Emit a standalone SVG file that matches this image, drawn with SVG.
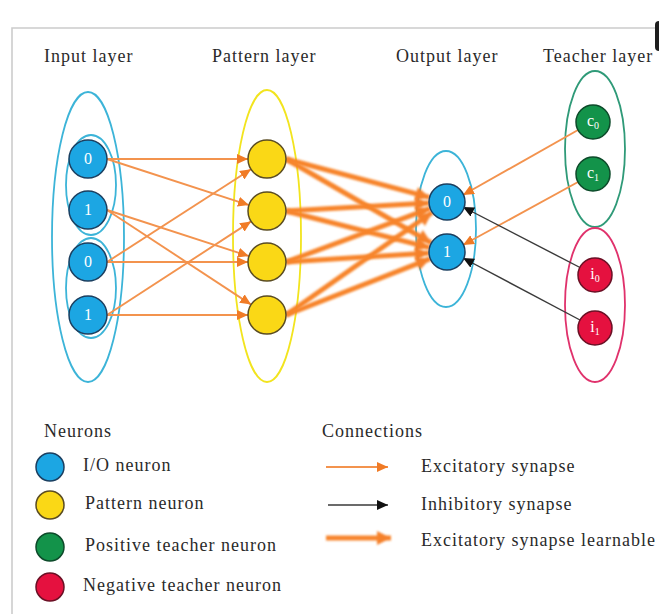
<svg xmlns="http://www.w3.org/2000/svg" width="659" height="614" viewBox="0 0 659 614">
  <defs>
    <style>
      .lbl { font-family: "Liberation Serif", "Times New Roman", serif; font-size: 18px; letter-spacing: 1px; fill: #2a2a2a; }
      .num { font-family: "Liberation Serif", "Times New Roman", serif; font-size: 16px; fill: #ffffff; text-anchor: middle; }
      .io { fill: #1ca6e3; stroke: #1b3f60; stroke-width: 1.5; }
      .pat { fill: #fad816; stroke: #5a4c22; stroke-width: 1.5; }
      .pos { fill: #13934a; stroke: #0d4a2a; stroke-width: 1.5; }
      .neg { fill: #e5113f; stroke: #6a1025; stroke-width: 1.5; }
      .exc { stroke: #f3934e; stroke-width: 1.9; fill: none; marker-end: url(#arrExc); }
      .inh { stroke: #3a3a3a; stroke-width: 1.4; fill: none; marker-end: url(#arrInh); }
      .learn { stroke: #f7842a; stroke-width: 5; fill: none; filter: url(#soft); marker-end: url(#arrLearn); }
      .grp { fill: none; stroke-width: 1.8; }
    </style>
    <filter id="soft" filterUnits="userSpaceOnUse" x="0" y="0" width="659" height="614">
      <feGaussianBlur stdDeviation="1.3"/>
    </filter>
    <marker id="arrExc" markerUnits="userSpaceOnUse" markerWidth="12" markerHeight="10" refX="11" refY="5" orient="auto">
      <path d="M0,0 L11,5 L0,10 z" fill="#f07b26"/>
    </marker>
    <marker id="arrInh" markerUnits="userSpaceOnUse" markerWidth="12" markerHeight="10" refX="11" refY="5" orient="auto">
      <path d="M0,0 L11,5 L0,10 z" fill="#111111"/>
    </marker>
    <marker id="arrLearn" markerUnits="userSpaceOnUse" markerWidth="16" markerHeight="14" refX="14" refY="7" orient="auto">
      <path d="M0,0 L14,7 L0,14 z" fill="#f5812a"/>
    </marker>
  </defs>

  <rect width="659" height="614" fill="#ffffff"/>

  <!-- frame -->
  <g id="frame">
    <path d="M12,614 L12,28 L659,28" fill="none" stroke="#cccccc" stroke-width="1.6"/>
    <rect x="655" y="21" width="12" height="30" rx="4" fill="#1e1e1e"/>
  </g>

  <!-- layer titles -->
  <g id="titles" class="lbl">
    <text x="44" y="62">Input layer</text>
    <text x="212" y="62">Pattern layer</text>
    <text x="396" y="62">Output layer</text>
    <text x="543" y="62">Teacher layer</text>
  </g>

  <!-- layer groupings -->
  <g id="groups">
    <ellipse cx="88" cy="237" rx="36" ry="145" class="grp" stroke="#3cb4d8"/>
    <ellipse cx="91" cy="185" rx="25" ry="50" class="grp" stroke="#3cb4d8"/>
    <ellipse cx="91" cy="288" rx="25" ry="50" class="grp" stroke="#3cb4d8"/>
    <ellipse cx="267" cy="236" rx="34" ry="146" class="grp" stroke="#f2e41e"/>
    <ellipse cx="446" cy="229" rx="30" ry="78" class="grp" stroke="#3cb4d8"/>
    <ellipse cx="595" cy="149" rx="30" ry="78" class="grp" stroke="#2f9a78"/>
    <ellipse cx="595" cy="305" rx="30" ry="77" class="grp" stroke="#e0326c"/>
  </g>

  <!-- connectors -->
  <g id="connectors">
    <!-- input to pattern -->
    <path class="exc" d="M107,159 L248,159"/>
    <path class="exc" d="M107,159 L248.9,205.1"/>
    <path class="exc" d="M107,210 L248.9,256.1"/>
    <path class="exc" d="M107,210 L251.1,304.6"/>
    <path class="exc" d="M107,262 L248,262"/>
    <path class="exc" d="M107,262 L251,169.3"/>
    <path class="exc" d="M107,315 L248,315"/>
    <path class="exc" d="M107,315 L251.1,221.4"/>
    <!-- pattern to output (learnable) -->
    <path class="learn" d="M286,159 L429.6,197.4"/>
    <path class="learn" d="M286,159 L431.4,243"/>
    <path class="learn" d="M286,211 L429,203"/>
    <path class="learn" d="M286,211 L429.6,247.6"/>
    <path class="learn" d="M286,262 L430.1,208.3"/>
    <path class="learn" d="M286,262 L429,253.1"/>
    <path class="learn" d="M286,315 L432.3,212.3"/>
    <path class="learn" d="M286,315 L430.2,258.6"/>
    <!-- teacher to output -->
    <path class="exc" d="M578,130 L463,195"/>
    <path class="exc" d="M578,182 L463,245"/>
    <path class="inh" d="M580,267.5 L463,207"/>
    <path class="inh" d="M580,320 L463,258"/>
  </g>

  <!-- input neurons -->
  <g id="in0"><circle cx="88" cy="159" r="19" class="io"/><text x="88" y="164" class="num">0</text></g>
  <g id="in1"><circle cx="88" cy="210" r="19" class="io"/><text x="88" y="215" class="num">1</text></g>
  <g id="in2"><circle cx="88" cy="262" r="19" class="io"/><text x="88" y="267" class="num">0</text></g>
  <g id="in3"><circle cx="88" cy="315" r="19" class="io"/><text x="88" y="320" class="num">1</text></g>

  <!-- pattern neurons -->
  <g id="p0"><circle cx="267" cy="159" r="19" class="pat"/></g>
  <g id="p1"><circle cx="267" cy="211" r="19" class="pat"/></g>
  <g id="p2"><circle cx="267" cy="262" r="19" class="pat"/></g>
  <g id="p3"><circle cx="267" cy="315" r="19" class="pat"/></g>

  <!-- output neurons -->
  <g id="out0"><circle cx="447" cy="202" r="18" class="io"/><text x="447" y="207" class="num">0</text></g>
  <g id="out1"><circle cx="447" cy="252" r="18" class="io"/><text x="447" y="257" class="num">1</text></g>

  <!-- teacher neurons -->
  <g id="c0"><circle cx="593" cy="122" r="17" class="pos"/><text x="593" y="126" class="num" font-size="14">c<tspan font-size="10" dy="3">0</tspan></text></g>
  <g id="c1"><circle cx="593" cy="174" r="17" class="pos"/><text x="593" y="178" class="num" font-size="14">c<tspan font-size="10" dy="3">1</tspan></text></g>
  <g id="i0"><circle cx="595" cy="275" r="17" class="neg"/><text x="595" y="279" class="num" font-size="14">i<tspan font-size="10" dy="3">0</tspan></text></g>
  <g id="i1"><circle cx="595" cy="328" r="17" class="neg"/><text x="595" y="332" class="num" font-size="14">i<tspan font-size="10" dy="3">1</tspan></text></g>

  <!-- legend: neurons -->
  <g id="legend-neurons">
    <text x="44" y="437" class="lbl">Neurons</text>
    <circle cx="50" cy="467" r="14" class="io"/>
    <text x="83" y="471" class="lbl">I/O neuron</text>
    <circle cx="50" cy="505" r="14" class="pat"/>
    <text x="85" y="509" class="lbl">Pattern neuron</text>
    <circle cx="50" cy="547" r="14" class="pos" stroke="none"/>
    <text x="85" y="551" class="lbl">Positive teacher neuron</text>
    <circle cx="50" cy="587" r="14" class="neg" stroke="none"/>
    <text x="83" y="591" class="lbl">Negative teacher neuron</text>
  </g>

  <!-- legend: connections -->
  <g id="legend-connections">
    <text x="322" y="437" class="lbl">Connections</text>
    <path class="exc" d="M326,467 L388,467"/>
    <text x="421" y="472" class="lbl">Excitatory synapse</text>
    <path class="inh" d="M328,505 L388,505"/>
    <text x="421" y="510" class="lbl">Inhibitory synapse</text>
    <path class="learn" d="M326,538 L391,538"/>
    <text x="421" y="546" class="lbl">Excitatory synapse learnable</text>
  </g>
</svg>
